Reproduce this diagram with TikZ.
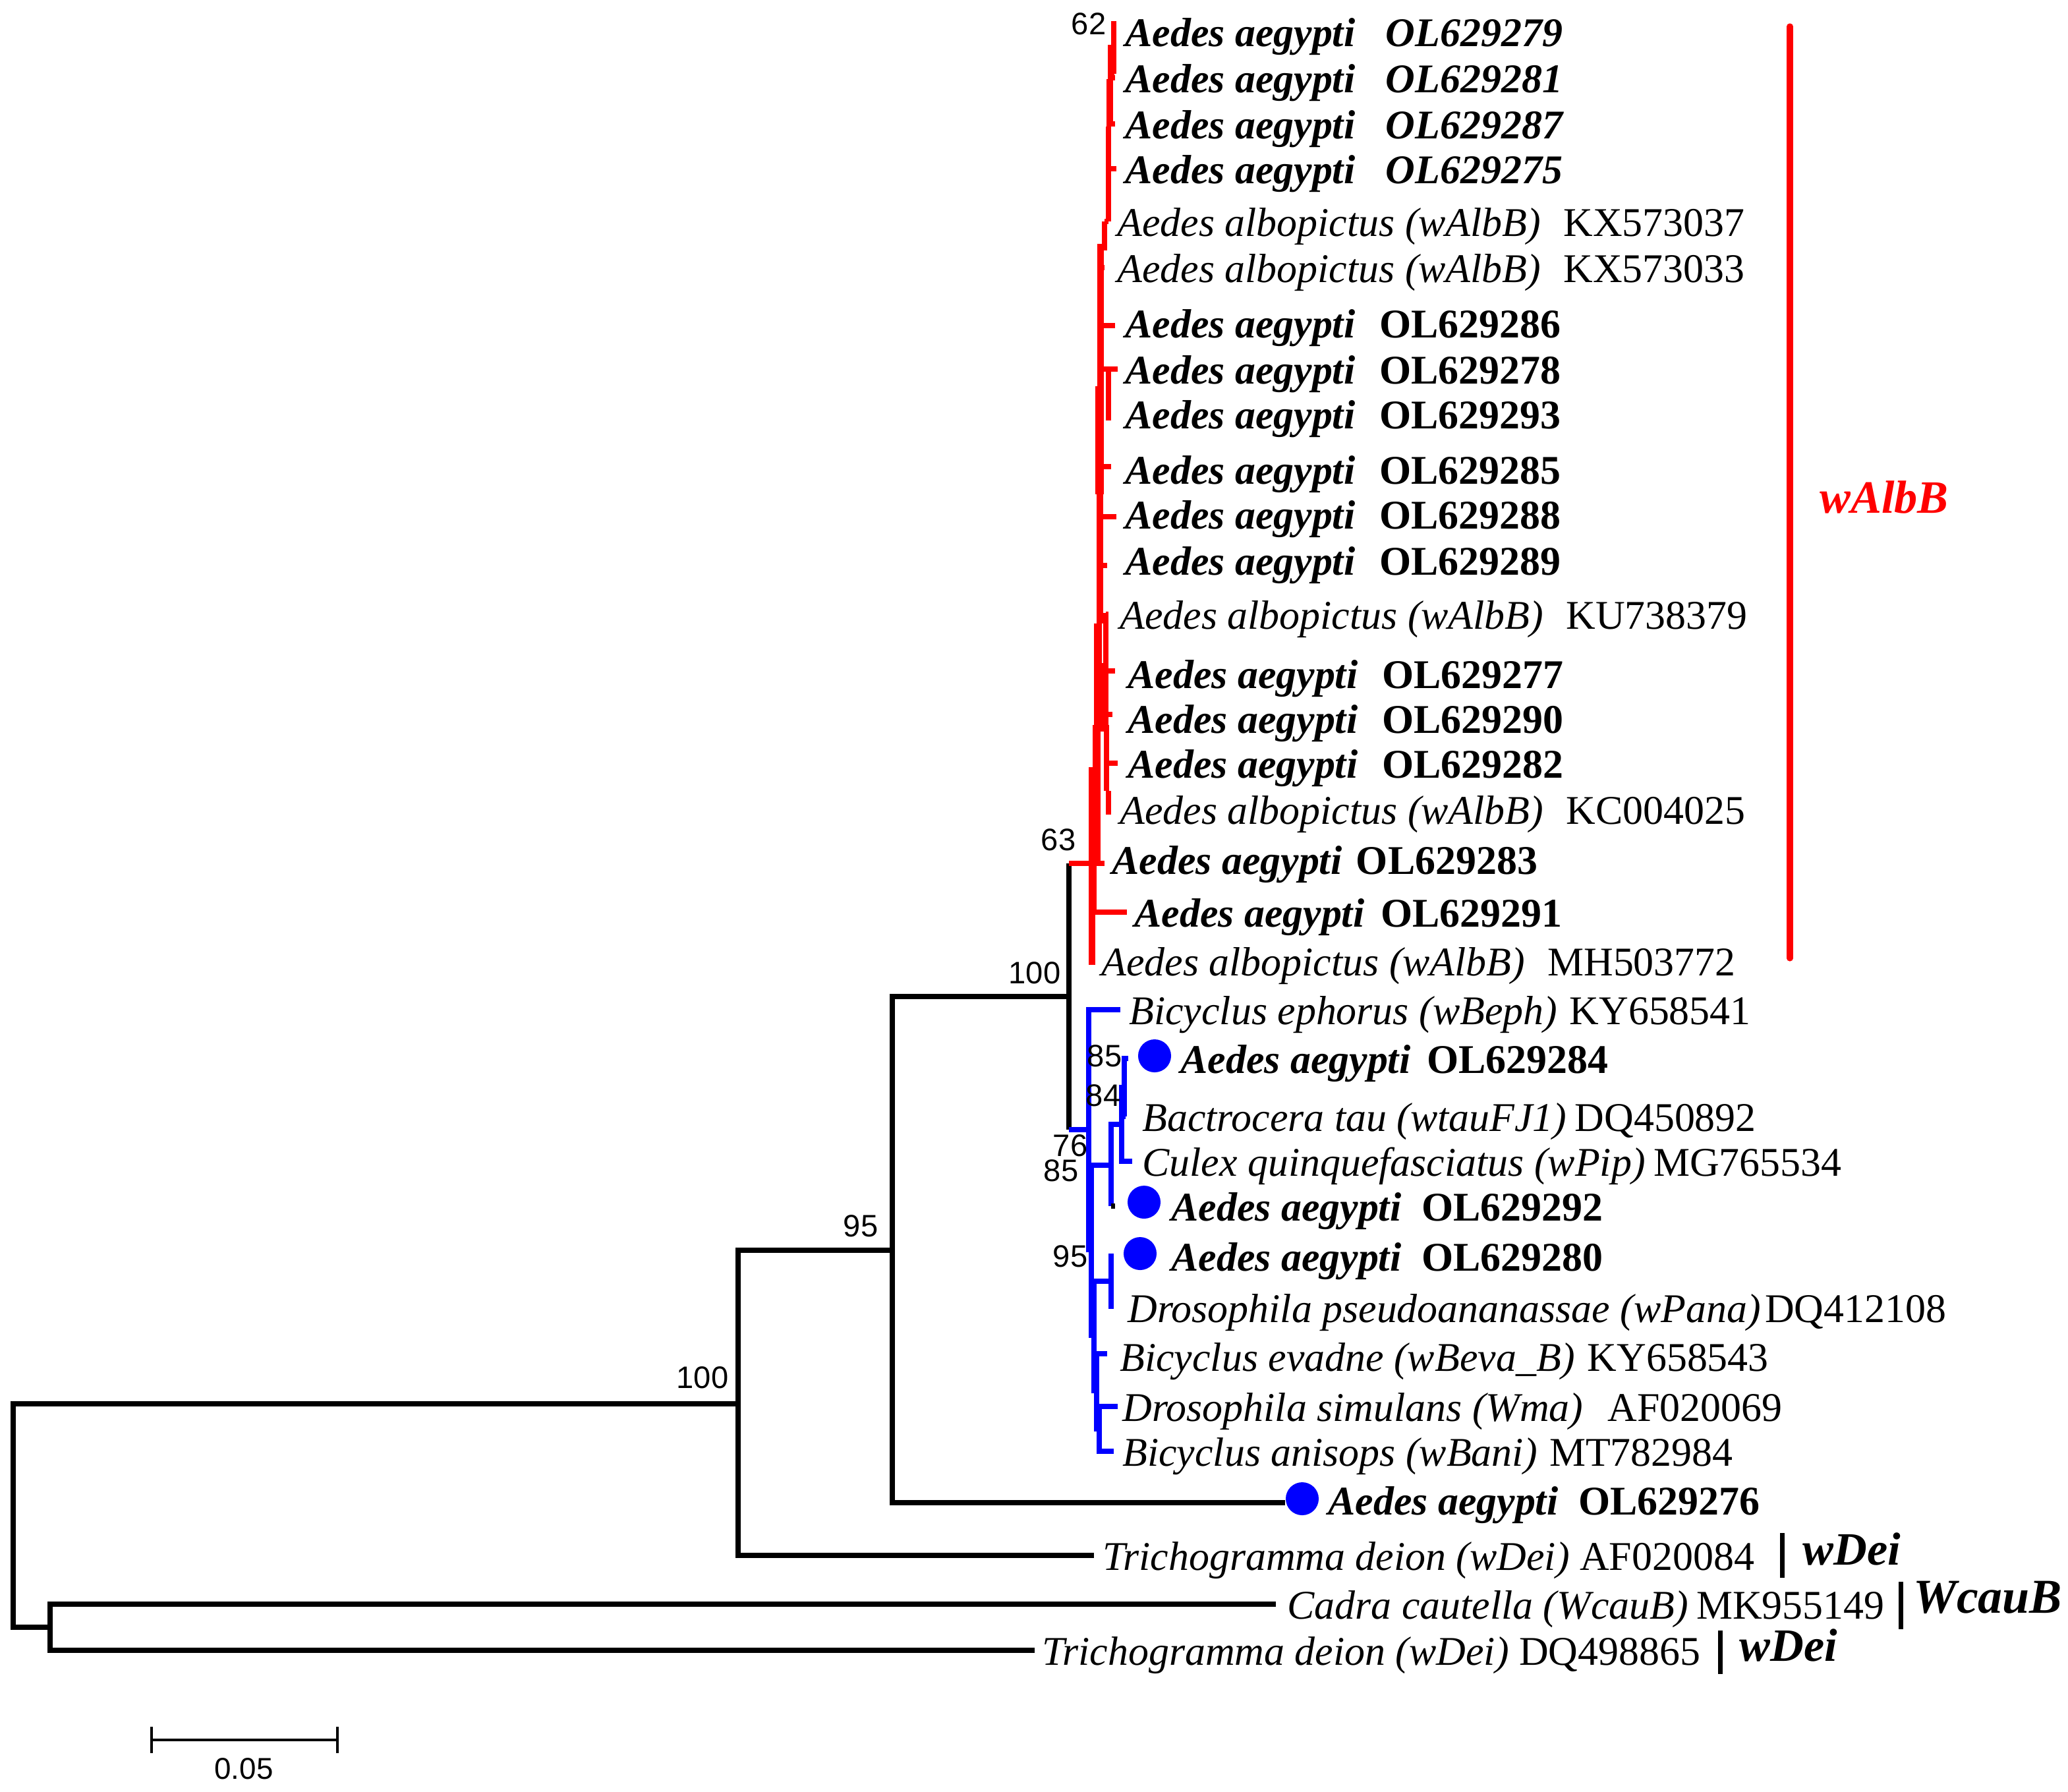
\documentclass[tikz,border=0pt]{standalone}
\usepackage{fontspec}
\setmainfont{Liberation Serif}
\newfontfamily\bootfont{Liberation Sans}
\colorlet{cladeRed}{red}
\colorlet{cladeBlue}{blue}
\newcommand{\aeg}[2][0.6em]{\textbf{\textit{Aedes aegypti}}\hspace{#1}\textbf{#2}}
\newcommand{\alb}[1]{\textit{Aedes albopictus (wAlbB)}\hspace{0.55em}#1}

\begin{document}
\begin{tikzpicture}[x=0.01cm, y=-0.01cm,
    br/.style={line width=1.15pt},
    leaf/.style={anchor=west, inner sep=0pt, yshift=-0.025cm, text height=1.55ex, text depth=0.45ex, font=\fontsize{8.8}{11}\selectfont},
    boot/.style={inner sep=0pt, font=\bootfont\fontsize{6.7}{8}\selectfont},
    clade/.style={anchor=west, inner sep=0pt, font=\fontsize{10}{12}\selectfont\bfseries\itshape},
    dot/.style={circle, fill=cladeBlue, inner sep=0pt, minimum size=0.25cm}]
    \useasboundingbox (0,0) rectangle (1569,1359);

    % internal nodes of the backbone
    \coordinate (nR) at (10,1150);
    \coordinate (nA) at (560,1065);
    \coordinate (nB) at (38,1234.5);
    \coordinate (nC) at (677,948.5);
    \coordinate (nD) at (811,756);
    \coordinate (rRoot) at (828.5,655);
    % tips outside the two big clades
    \coordinate (t276) at (975,1140);
    \coordinate (tDeiA) at (830,1180);
    \coordinate (tCad) at (968,1217);
    \coordinate (tDeiB) at (785,1252);

    \draw[br] (nA) -| (nR) |- (nB);
    \draw[br] (nC) -| (nA) |- (tDeiA);
    \draw[br] (nD) -| (nC) |- (t276);
    \draw[br] (tCad) -| (nB) |- (tDeiB);
    \draw[br] (nD |- rRoot) -- (nD) -- (811,857);

    % blue clade
    \coordinate (S1) at (826,857);
    \coordinate (S2) at (828,948);
    \coordinate (S3) at (830,1013);
    \coordinate (S4) at (832,1055);
    \coordinate (S5) at (834,1084);
    \coordinate (Bn) at (843,884);
    \coordinate (Cn) at (851,853);
    \coordinate (Dn) at (853,825);
    \coordinate (En) at (843,972);
    \coordinate (tEph) at (850,766);
    \coordinate (t284) at (856,803);
    \coordinate (tBac) at (854,847);
    \coordinate (tCul) at (859,881);
    \coordinate (t292) at (846,915);
    \coordinate (t280) at (845,953);
    \coordinate (tPan) at (845,991);
    \coordinate (tEva) at (840,1027);
    \coordinate (tSim) at (848,1067);
    \coordinate (tAni) at (845,1101);

    \draw[br,cladeBlue] (nD |- S1) -- (S1);
    \draw[br,cladeBlue] (tEph) -| (S1) |- (S2);
    \draw[br,cladeBlue] (Bn) -| (S2) |- (S3);
    \draw[br,cladeBlue] (En) -| (S3) |- (S4);
    \draw[br,cladeBlue] (tEva) -| (S4) |- (S5);
    \draw[br,cladeBlue] (tSim) -| (S5) |- (tAni);
    \draw[br,cladeBlue] (Cn) -| (Bn) -- (Bn |- t292);
    \draw[br] (Bn |- t292) -- (t292);
    \draw[br,cladeBlue] (Dn) -| (Cn) |- (tCul);
    \draw[br,cladeBlue] (t284) -| (Dn) |- (tBac);
    \draw[br,cladeBlue] (t280) -| (En) |- (tPan);

    % red clade (collapsed ladder)
    \coordinate (t283) at (838,655);
    \draw[br,cladeRed] (nD |- rRoot) -- (t283);
    \foreach \x/\ya/\yb/\w in {845/16/56/1, 843/34/60/1.3, 842/60/96/1.3, 841/96/168/1,
        838/168/190/1, 835/185/375/1.5, 841/280/319/1, 833/293/375/1.2,
        834.5/370/473/1.5, 839/465/503/1, 833/473/555/1.8, 838.5/503/555/1.4,
        832/550/653/1.6, 839.5/550/600/1.2, 841/600/618/1, 828.5/582/732/1.5, 830/655/692/1}
        \draw[cladeRed, line width=\w pt] (\x,\ya) -- (\x,\yb);
    \foreach \y/\xa/\xb in {24/845/847, 59/843/846, 94/841/846, 128/841/847, 168/838/841,
        203/835/838, 247/835/846, 280/835/848, 317/841/843, 354/833/843, 392/835/847,
        429/835/840, 466/839/841, 509/839/846, 542/839/844, 579/840/848, 614/841/843,
        692/829/855, 729/826/829}
        \draw[br,cladeRed] (\xa,\y) -- (\xb,\y);

    % leaf labels, red clade
    \node[leaf] (r01) at (853,24) {\aeg[0.75em]{\textit{OL629279}}};
    \node[leaf] (r02) at (853,59) {\aeg[0.75em]{\textit{OL629281}}};
    \node[leaf] (r03) at (853,94) {\aeg[0.75em]{\textit{OL629287}}};
    \node[leaf] (r04) at (853,128) {\aeg[0.75em]{\textit{OL629275}}};
    \node[leaf] (r05) at (847,168) {\alb{KX573037}};
    \node[leaf] (r06) at (847,203) {\alb{KX573033}};
    \node[leaf] (r07) at (853,245) {\aeg{OL629286}};
    \node[leaf] (r08) at (853,280) {\aeg{OL629278}};
    \node[leaf] (r09) at (853,314) {\aeg{OL629293}};
    \node[leaf] (r10) at (853,356) {\aeg{OL629285}};
    \node[leaf] (r11) at (853,390) {\aeg{OL629288}};
    \node[leaf] (r12) at (853,425) {\aeg{OL629289}};
    \node[leaf] (r13) at (849,466) {\alb{KU738379}};
    \node[leaf] (r14) at (855,511) {\aeg{OL629277}};
    \node[leaf] (r15) at (855,545) {\aeg{OL629290}};
    \node[leaf] (r16) at (855,579) {\aeg{OL629282}};
    \node[leaf] (r17) at (849,614) {\alb{KC004025}};
    \node[leaf] (r18) at (843,652) {\aeg[0.35em]{OL629283}};
    \node[leaf] (r19) at (860,692) {\aeg[0.4em]{OL629291}};
    \node[leaf] (r20) at (835,729) {\alb{MH503772}};

    % leaf labels, blue clade and outgroups
    \node[leaf] (b01) at (856,766) {\textit{Bicyclus ephorus (wBeph)}\hspace{0.3em}KY658541};
    \node[dot] (d284) at (876,801) {};
    \node[leaf] (b02) at (895,803) {\aeg[0.4em]{OL629284}};
    \node[leaf] (b03) at (866,847) {\textit{Bactrocera tau (wtauFJ1)}\hspace{0.2em}DQ450892};
    \node[leaf] (b04) at (866,881) {\textit{Culex quinquefasciatus (wPip)}\hspace{0.2em}MG765534};
    \node[dot] (d292) at (868,912) {};
    \node[leaf] (b05) at (888,915) {\aeg[0.5em]{OL629292}};
    \node[dot] (d280) at (865,951) {};
    \node[leaf] (b06) at (888,953) {\aeg[0.5em]{OL629280}};
    \node[leaf] (b07) at (855,992) {\textit{Drosophila pseudoananassae (wPana)}\hspace{0.1em}DQ412108};
    \node[leaf] (b08) at (849,1029) {\textit{Bicyclus evadne (wBeva\_B)}\hspace{0.3em}KY658543};
    \node[leaf] (b09) at (851,1067) {\textit{Drosophila simulans (Wma)}\hspace{0.6em}AF020069};
    \node[leaf] (b10) at (851,1101) {\textit{Bicyclus anisops (wBani)}\hspace{0.3em}MT782984};
    \node[dot] (d276) at (988,1137) {};
    \node[leaf] (o01) at (1007,1138) {\aeg[0.5em]{OL629276}};
    \node[leaf] (o02) at (836,1180) {\textit{Trichogramma deion (wDei)}\hspace{0.25em}AF020084};
    \node[leaf] (o03) at (976,1217) {\textit{Cadra cautella (WcauB)}\hspace{0.2em}MK955149};
    \node[leaf] (o04) at (790,1252) {\textit{Trichogramma deion (wDei)}\hspace{0.25em}DQ498865};

    % bootstrap values
    \node[boot] (bs62) at (826,18) {62};
    \node[boot] (bs63) at (803,637) {63};
    \node[boot] (bs100a) at (785,738) {100};
    \node[boot] (bs95a) at (653,930) {95};
    \node[boot] (bs100b) at (533,1045) {100};
    \node[boot] (bs85a) at (838,801) {85};
    \node[boot] (bs84) at (837,831) {84};
    \node[boot] (bs76) at (812,869) {76};
    \node[boot] (bs85b) at (805,888) {85};
    \node[boot] (bs95b) at (812,953) {95};

    % clade bars
    \draw[cladeRed, line width=1.3pt, line cap=round] (1358,20) -- (1358,727);
    \node[clade, text=cladeRed] (cAlb) at (1380,377) {wAlbB};
    \draw[line width=1pt] (1352,1163) -- (1352,1197);
    \node[clade] (cDeiA) at (1367,1175) {wDei};
    \draw[line width=1pt] (1442,1200) -- (1442,1236);
    \node[clade, font=\fontsize{10.5}{12}\selectfont\bfseries\itshape] (cCau) at (1451,1212) {WcauB};
    \draw[line width=1pt] (1305,1237) -- (1305,1270);
    \node[clade] (cDeiB) at (1319,1248) {wDei};

    % scale bar
    \draw[line width=0.5pt] (115,1310) -- (115,1330) (115,1320) -- (256,1320) (256,1310) -- (256,1330);
    \node[boot, font=\bootfont\fontsize{6.5}{8}\selectfont] (sc) at (185,1342) {0.05};
\end{tikzpicture}
\end{document}
